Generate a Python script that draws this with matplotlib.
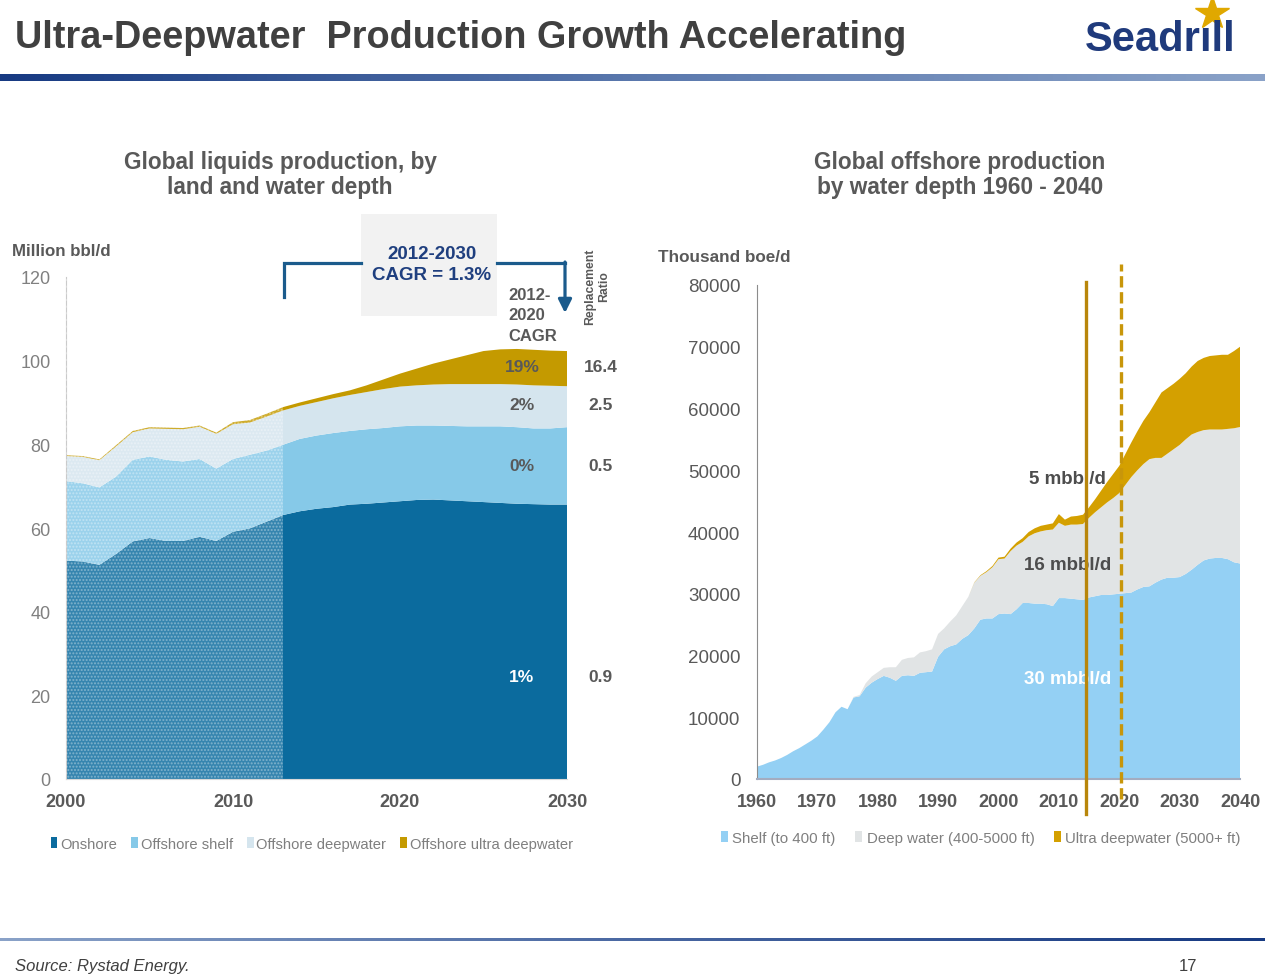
import numpy as np
import matplotlib
matplotlib.use('Agg')
import matplotlib.pyplot as plt
from matplotlib.patches import Patch, Rectangle, FancyArrowPatch

plt.rcParams['font.family'] = ['Liberation Sans', 'DejaVu Sans']

# ---------------- data ----------------
left_years = list(range(2000, 2031))
onshore = [52.2, 52.0, 51.2, 53.8, 56.8, 57.6, 56.9, 56.9, 57.9, 56.9, 59.1, 59.9, 61.5, 63.1, 64.0, 64.6,
           65.0, 65.6, 65.8, 66.1, 66.4, 66.7, 66.8, 66.6, 66.4, 66.2, 66.0, 65.8, 65.7, 65.6, 65.6]
offshore_shelf = [19.0, 18.7, 18.5, 18.5, 19.5, 19.5, 19.4, 19.0, 18.6, 17.3, 17.4, 17.6, 17.0, 16.8, 17.3, 17.5,
                  17.7, 17.6, 17.8, 17.8, 17.9, 17.8, 17.7, 17.8, 17.9, 18.1, 18.3, 18.3, 18.1, 18.2, 18.5]
offshore_deep = [6.0, 6.3, 6.5, 7.2, 6.6, 6.7, 7.4, 7.7, 7.7, 8.3, 8.3, 7.7, 8.1, 8.2, 7.9, 8.0,
                 8.3, 8.6, 8.9, 9.3, 9.5, 9.6, 9.8, 10.0, 10.1, 10.1, 10.1, 10.2, 10.3, 10.2, 9.8]
offshore_ultra = [0.2, 0.2, 0.2, 0.3, 0.3, 0.3, 0.3, 0.3, 0.3, 0.3, 0.5, 0.6, 0.7, 0.8, 0.8, 0.9,
                  1.0, 1.1, 1.6, 2.3, 3.1, 4.0, 5.0, 5.9, 6.9, 7.9, 8.3, 8.5, 8.5, 8.4, 8.4]
left_names = ['Onshore', 'Offshore shelf', 'Offshore deepwater', 'Offshore ultra deepwater']
left_colors = ['#0b6b9e', '#86c9e8', '#d5e5ee', '#c49a00']
history_end = 2013
left_xticks = [2000, 2010, 2020, 2030]
left_yticks = [0, 20, 40, 60, 80, 100, 120]
cagr_2012_2020 = ['1%', '0%', '2%', '19%']
replacement_ratio = ['0.9', '0.5', '2.5', '16.4']

right_years = list(range(1960, 2041))
shelf = [2000, 2300, 2700, 3000, 3400, 3900, 4500, 5000, 5600, 6200,
         6900, 8000, 9200, 10800, 11700, 11300, 13200, 13400, 14800, 15600,
         16200, 16700, 16400, 15900, 16700, 16800, 16700, 17200, 17300, 17400,
         19800, 21000, 21500, 21800, 22700, 23300, 24400, 25800, 26000, 26000,
         26700, 26800, 26700, 27500, 28500, 28500, 28400, 28400, 28300, 28000,
         29300, 29300, 29200, 29100, 29000, 29400, 29600, 29800, 29800, 29900,
         30000, 30100, 30200, 30700, 31100, 31200, 31800, 32300, 32600, 32600,
         32700, 33200, 33900, 34700, 35400, 35700, 35800, 35800, 35600, 35100,
         34900]
deep_water = [0, 0, 0, 0, 0, 0, 0, 0, 0, 0,
              0, 0, 0, 0, 0, 0, 100, 200, 700, 1000,
              1100, 1300, 1700, 2200, 2600, 2800, 3000, 3300, 3400, 3600,
              3700, 3400, 4000, 4700, 5300, 6200, 7400, 7100, 7500, 8300,
              8900, 8900, 10200, 10300, 9900, 10800, 11400, 11700, 12000, 12400,
              12200, 11700, 12000, 12100, 12300, 12900, 13600, 14200, 15000, 15600,
              16300, 17500, 18700, 19300, 19900, 20600, 20200, 19700, 20100, 20800,
              21400, 21800, 21900, 21500, 21100, 20900, 20800, 20800, 21100, 21700,
              22100]
ultra_deep = [0, 0, 0, 0, 0, 0, 0, 0, 0, 0,
              0, 0, 0, 0, 0, 0, 0, 0, 0, 0,
              0, 0, 0, 0, 0, 0, 0, 0, 0, 0,
              0, 0, 0, 0, 0, 0, 50, 100, 150, 200,
              250, 300, 400, 500, 600, 700, 800, 900, 900, 1000,
              1400, 1000, 1300, 1400, 1500, 1700, 2100, 2700, 3300, 3900,
              4400, 5000, 5600, 6300, 7000, 7600, 9000, 10600, 10600, 10600,
              10700, 10700, 11000, 11500, 11700, 11900, 12000, 12100, 12000, 12500,
              13000]
right_names = ['Shelf (to 400 ft)', 'Deep water (400-5000 ft)', 'Ultra deepwater (5000+ ft)']
right_colors = ['#94d0f4', '#e1e4e5', '#d4a000']
right_xticks = [1960, 1970, 1980, 1990, 2000, 2010, 2020, 2030, 2040]
right_yticks = [0, 10000, 20000, 30000, 40000, 50000, 60000, 70000, 80000]
right_labels = ['30 mbbl/d', '16 mbbl/d', '5 mbbl/d']
marker_years = [2014.5, 2020.3]

# ---------------- figure ----------------
W, H = 1265, 979
fig = plt.figure(figsize=(W / 100, H / 100), dpi=100)
fig.patch.set_facecolor('white')


def fx(x):
    return x / W


def fy(y):
    return 1 - y / H


GRAY = '#595959'

# gradient bars
bar1 = fig.add_axes([0, fy(82), 1, 7 / H])
bar1.imshow(np.linspace(0, 1, 256)[None, :], aspect='auto',
            cmap=matplotlib.colors.LinearSegmentedColormap.from_list('g1', ['#173a82', '#5a78ad', '#8aa2c8']))
bar1.axis('off')
bar2 = fig.add_axes([0, fy(942), 1, 3 / H])
bar2.imshow(np.linspace(0, 1, 256)[None, :], aspect='auto',
            cmap=matplotlib.colors.LinearSegmentedColormap.from_list('g2', ['#8aa2c8', '#4a68a2', '#173a82']))
bar2.axis('off')

# ---------------- left chart ----------------
ax1 = fig.add_axes([fx(66), fy(780), (567 - 66) / W, (780 - 278) / H])
ax1.stackplot(left_years, onshore, offshore_shelf, offshore_deep, offshore_ultra,
              colors=left_colors, linewidth=0)
ax1.set_xlim(2000, 2030)
ax1.set_ylim(0, 120)
hist = Rectangle((2000, 0), history_end - 2000, 120, facecolor=(1, 1, 1, 0.18),
                 edgecolor=(1, 1, 1, 0.35), hatch='.....', linewidth=0, zorder=3)
ax1.add_patch(hist)
ax1.set_xticks(left_xticks)
ax1.set_yticks(left_yticks)
ax1.tick_params(axis='both', length=0)
ax1.tick_params(axis='y', labelsize=13, labelcolor='#808080', pad=11)
ax1.tick_params(axis='x', labelsize=13, labelcolor=GRAY, pad=10)
for t in ax1.get_xticklabels():
    t.set_fontweight('bold')
for s in ['top', 'right']:
    ax1.spines[s].set_visible(False)
ax1.spines['left'].set_color('#bfbfbf')
ax1.spines['bottom'].set_color('#d9d9d9')
ax1.set_facecolor('none')

left_label_y = [24.6, 75.0, 89.5, 98.6]
left_label_colors = ['white', GRAY, GRAY, GRAY]
for lab, rr, yv, c in zip(cagr_2012_2020, replacement_ratio, left_label_y, left_label_colors):
    ax1.text(2027.3, yv, lab, ha='center', va='center', fontsize=12.5, fontweight='bold', color=c, zorder=5)
    ax1.text(2032.0, yv, rr, ha='center', va='center', fontsize=12.5, fontweight='bold', color=GRAY,
             clip_on=False)

handles1 = [Patch(facecolor=c, edgecolor='none') for c in left_colors]
fig.legend(handles1, left_names, loc='center', bbox_to_anchor=(fx(312), fy(845)), ncol=4, frameon=False,
           fontsize=10.6, handlelength=0.45, handleheight=0.75, handletextpad=0.2, columnspacing=0.95,
           labelcolor='#7f7f7f')

# ---------------- right chart ----------------
ax2 = fig.add_axes([fx(757), fy(780), (1240 - 757) / W, (780 - 286) / H])
ax2.stackplot(right_years, shelf, deep_water, ultra_deep, colors=right_colors, linewidth=0)
ax2.set_xlim(1960, 2040)
ax2.set_ylim(0, 80000)
ax2.set_xticks(right_xticks)
ax2.set_yticks(right_yticks)
ax2.tick_params(axis='both', length=0)
ax2.tick_params(axis='y', labelsize=13.5, labelcolor=GRAY, pad=12)
ax2.tick_params(axis='x', labelsize=13, labelcolor=GRAY, pad=10)
for t in ax2.get_xticklabels():
    t.set_fontweight('bold')
for s in ['top', 'right']:
    ax2.spines[s].set_visible(False)
ax2.spines['left'].set_color('#8c8c8c')
ax2.spines['bottom'].set_color('#a3acc0')
ax2.spines['bottom'].set_linewidth(1.5)

ax2.plot([marker_years[0]] * 2, [-5700, 80500], color='#b8860b', lw=2.4, clip_on=False, zorder=4)
ax2.plot([marker_years[1]] * 2, [-3300, 83400], color='#c8960a', lw=2.4, ls=(0, (3.4, 1.4)),
         clip_on=False, zorder=4)

right_label_y = [16200, 34700, 48600]
right_label_colors = ['white', '#4d4d4d', '#4d4d4d']
for lab, yv, c in zip(right_labels, right_label_y, right_label_colors):
    ax2.text(2011.5, yv, lab, ha='center', va='center', fontsize=13.5, fontweight='bold', color=c, zorder=3)

handles2 = [Patch(facecolor=c, edgecolor='none') for c in right_colors]
fig.legend(handles2, right_names, loc='center', bbox_to_anchor=(fx(981), fy(839)), ncol=3, frameon=False,
           fontsize=10.8, handlelength=0.45, handleheight=0.75, handletextpad=0.3, columnspacing=1.3,
           labelcolor='#7f7f7f')

# ---------------- overlay (texts, annotations) ----------------
ov = fig.add_axes([0, 0, 1, 1], zorder=10)
ov.set_xlim(0, W)
ov.set_ylim(H, 0)
ov.axis('off')
ov.patch.set_alpha(0)

ov.text(15, 38, 'Ultra-Deepwater  Production Growth Accelerating', fontsize=27.3, fontweight='bold',
        color='#404040', ha='left', va='center')
# logo
ov.text(1160, 40, 'Seadr\u0131ll', fontsize=30, fontweight='bold', color='#1f3a7c', ha='center', va='center')
ov.plot([1212], [14], marker='*', markersize=25, color='#e0a800', markeredgecolor='#e0a800')

ov.text(280, 175, 'Global liquids production, by\nland and water depth', fontsize=16.3, fontweight='bold',
        color=GRAY, ha='center', va='center', linespacing=1.15)
ov.text(960, 175, 'Global offshore production\nby water depth 1960 - 2040', fontsize=16.3, fontweight='bold',
        color=GRAY, ha='center', va='center', linespacing=1.15)
ov.text(12, 252, 'Million bbl/d', fontsize=12.2, fontweight='bold', color=GRAY, ha='left', va='center')
ov.text(658, 258, 'Thousand boe/d', fontsize=12.3, fontweight='bold', color=GRAY, ha='left', va='center')

# CAGR bracket
BR = '#1b5b8c'
ov.plot([284, 284, 361], [298, 264, 264], color=BR, lw=2.3, solid_joinstyle='miter')
ov.add_patch(Rectangle((361, 215), 136, 102, facecolor='#f2f2f2', edgecolor='none'))
ov.plot([497, 565], [264, 264], color=BR, lw=2.3)
ov.add_patch(FancyArrowPatch((565, 263), (565, 314), arrowstyle='-|>', mutation_scale=20, color=BR, lw=2.3,
                             shrinkA=0, shrinkB=0))
ov.text(432, 265, '2012-2030\nCAGR = 1.3%', fontsize=13.5, fontweight='bold', color='#1f3f7f', ha='center',
        va='center', linespacing=1.35)
ov.text(508, 316, '2012-\n2020\nCAGR', fontsize=12, fontweight='bold', color=GRAY, ha='left', va='center',
        linespacing=1.45)
ov.text(597, 287, 'Replacement\nRatio', fontsize=8.8, fontweight='bold', color=GRAY, ha='center', va='center',
        rotation=90, linespacing=1.25)

ov.text(15, 967, 'Source: Rystad Energy.', fontsize=12, style='italic', color='#404040', ha='left',
        va='center')
ov.text(1188, 967, '17', fontsize=12, color='#404040', ha='center', va='center')

fig.savefig('out.png', dpi=100)
